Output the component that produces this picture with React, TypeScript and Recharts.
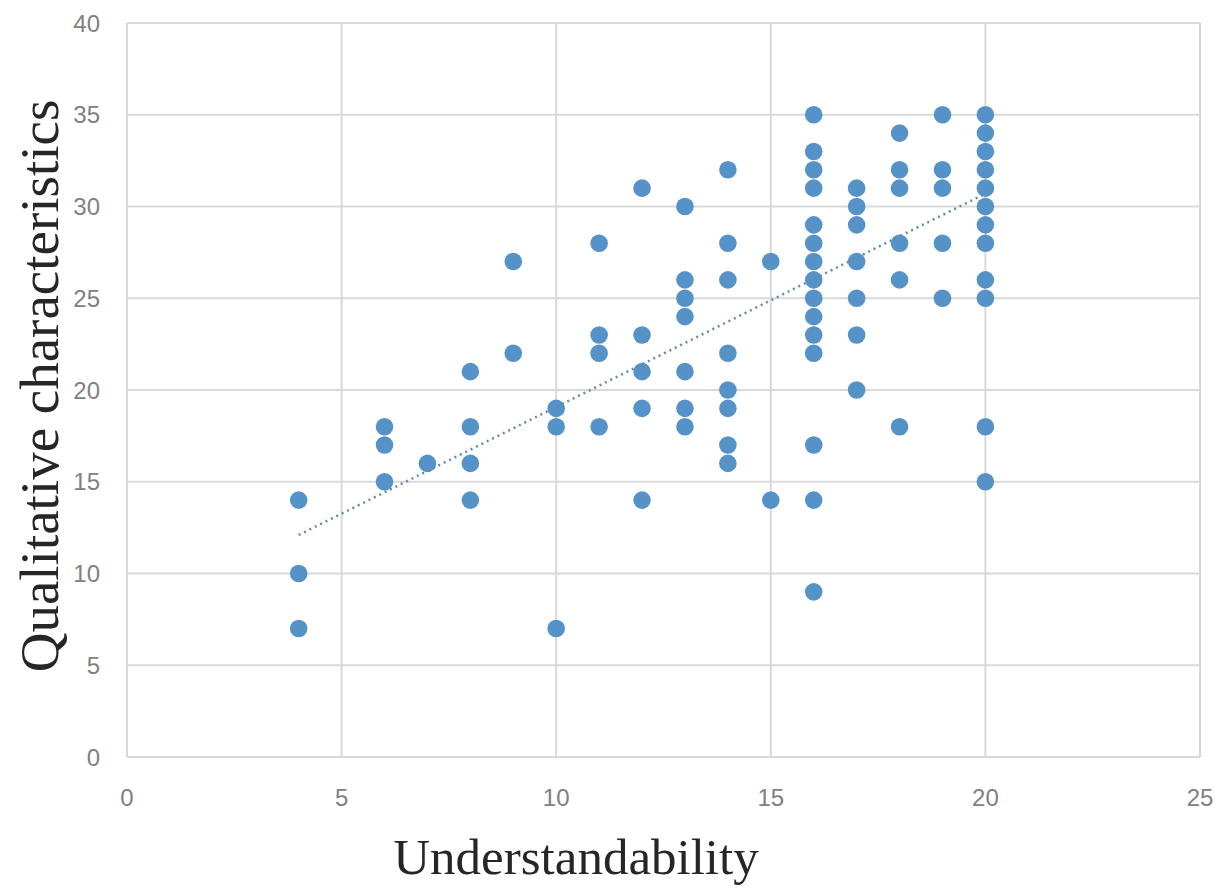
import { ScatterChart, Scatter, XAxis, YAxis, CartesianGrid, Label } from "recharts";

// understandability score for each column of points
const understandability = [4, 6, 7, 8, 9, 10, 11, 12, 13, 14, 15, 16, 17, 18, 19, 20];

// qualitative characteristics values observed at each understandability score
const qualitativeByScore = [
  [14, 10, 7],
  [18, 17, 15],
  [16],
  [21, 18, 16, 14],
  [27, 22],
  [19, 18, 7],
  [28, 23, 22, 18],
  [31, 23, 21, 19, 14],
  [30, 26, 25, 24, 21, 19, 18],
  [32, 28, 26, 22, 20, 19, 17, 16],
  [27, 14],
  [35, 33, 32, 31, 29, 28, 27, 26, 25, 24, 23, 22, 17, 14, 9],
  [31, 30, 29, 27, 25, 23, 20],
  [34, 32, 31, 28, 26, 18],
  [35, 32, 31, 28, 25],
  [35, 34, 33, 32, 31, 30, 29, 28, 26, 25, 18, 15],
];

// linear trendline end points
const trendX = [4, 20];
const trendY = [12.1, 30.7];

const xTicks = [0, 5, 10, 15, 20, 25];
const yTicks = [0, 5, 10, 15, 20, 25, 30, 35, 40];

const points = understandability.flatMap((x, i) => qualitativeByScore[i].map((y) => ({ x, y })));
const trend = trendX.map((x, i) => ({ x, y: trendY[i] }));

const GRID = "#d9d9d9";
const DOT = "#5592c8";
const TICK = { fill: "#808080", fontSize: 24, fontFamily: "'Liberation Sans', Arial, sans-serif" };
const TITLE_FONT = "'Liberation Serif', 'Times New Roman', serif";

const Dot = (props: any) => <circle cx={props.cx} cy={props.cy} r={8.8} fill={DOT} />;

export default function App() {
  return (
    <div style={{ position: "absolute", left: 0, top: 0, background: "#fff" }}>
      <ScatterChart width={1225} height={888} margin={{ top: 23, right: 25, bottom: 0, left: 0 }}>
        <CartesianGrid stroke={GRID} strokeWidth={2} />
        <XAxis
          type="number"
          dataKey="x"
          domain={[0, 25]}
          ticks={xTicks}
          height={131}
          tickSize={0}
          tickMargin={32}
          tick={TICK}
          axisLine={{ stroke: GRID, strokeWidth: 2 }}
        >
          <Label
            content={() => (
              <text x={576} y={874} textAnchor="middle" fontSize={51} fontFamily={TITLE_FONT} fill="#262626">
                Understandability
              </text>
            )}
          />
        </XAxis>
        <YAxis
          type="number"
          dataKey="y"
          domain={[0, 40]}
          ticks={yTicks}
          width={127}
          tickSize={0}
          tickMargin={27}
          tick={TICK}
          axisLine={{ stroke: GRID, strokeWidth: 2 }}
        >
          <Label
            content={() => (
              <text
                x={58}
                y={386}
                transform="rotate(-90 58 386)"
                textAnchor="middle"
                fontSize={55}
                fontFamily={TITLE_FONT}
                fill="#262626"
              >
                Qualitative characteristics
              </text>
            )}
          />
        </YAxis>
        <Scatter data={points} shape={Dot} isAnimationActive={false} />
        <Scatter
          data={trend}
          line={{ stroke: "#6489b0", strokeWidth: 2.5, strokeDasharray: "2 4" }}
          shape={() => null}
          isAnimationActive={false}
        />
      </ScatterChart>
    </div>
  );
}
